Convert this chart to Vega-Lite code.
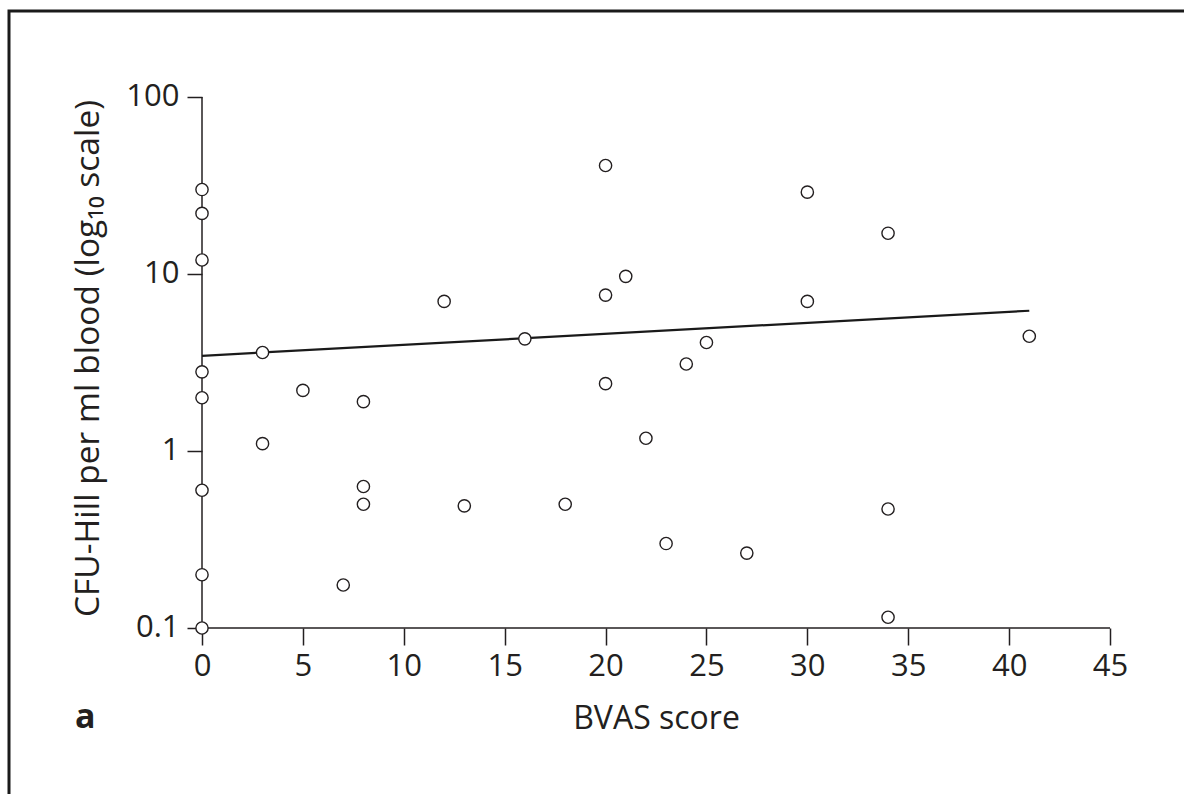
{
  "$schema": "https://vega.github.io/schema/vega-lite/v6.json",
  "autosize": {"type": "none"},
  "width": 1179,
  "height": 787,
  "padding": {"left": 9, "top": 11, "right": -4, "bottom": -4},
  "background": "white",
  "config": {
    "view": {"stroke": "#1a1a1a", "strokeWidth": 3},
    "font": "Open Sans",
    "axis": {"labelColor": "#231f20", "titleColor": "#231f20", "tickColor": "#231f20", "labelFont": "Open Sans", "titleFont": "Open Sans", "titleFontWeight": "normal", "grid": false, "domain": false, "tickWidth": 1.5}
  },
  "datasets": {
    "points": [
      {"bvas": 0, "cfu": 30}, {"bvas": 0, "cfu": 22}, {"bvas": 0, "cfu": 12}, {"bvas": 0, "cfu": 2.8},
      {"bvas": 0, "cfu": 2.0}, {"bvas": 0, "cfu": 0.6}, {"bvas": 0, "cfu": 0.2}, {"bvas": 0, "cfu": 0.1},
      {"bvas": 3, "cfu": 3.6}, {"bvas": 3, "cfu": 1.1}, {"bvas": 5, "cfu": 2.2}, {"bvas": 7, "cfu": 0.175},
      {"bvas": 8, "cfu": 1.9}, {"bvas": 8, "cfu": 0.63}, {"bvas": 8, "cfu": 0.5}, {"bvas": 12, "cfu": 7.0},
      {"bvas": 13, "cfu": 0.49}, {"bvas": 16, "cfu": 4.3}, {"bvas": 18, "cfu": 0.5}, {"bvas": 20, "cfu": 41},
      {"bvas": 20, "cfu": 7.6}, {"bvas": 20, "cfu": 2.4}, {"bvas": 21, "cfu": 9.7}, {"bvas": 22, "cfu": 1.18},
      {"bvas": 23, "cfu": 0.3}, {"bvas": 24, "cfu": 3.1}, {"bvas": 25, "cfu": 4.1}, {"bvas": 27, "cfu": 0.265},
      {"bvas": 30, "cfu": 29}, {"bvas": 30, "cfu": 7.0}, {"bvas": 34, "cfu": 17}, {"bvas": 34, "cfu": 0.47},
      {"bvas": 34, "cfu": 0.115}, {"bvas": 41, "cfu": 4.45}
    ],
    "fit": [{"bvas": 0, "cfu": 3.45}, {"bvas": 41, "cfu": 6.2}],
    "axislines": [
      {"xa": 0, "xb": 45, "ya": 0.1, "yb": 0.1},
      {"xa": 0, "xb": 0, "ya": 0.1, "yb": 100}
    ],
    "panel": [{"bvas": -6.3, "cfu": 0.0272, "label": "a"}]
  },
  "layer": [
    {
      "data": {"name": "axislines"},
      "mark": {"type": "rule", "color": "#231f20", "strokeWidth": 1.5},
      "encoding": {
        "x": {"field": "xa", "type": "quantitative",
          "scale": {"domain": [-9.565, 48.865], "nice": false, "zero": false},
          "axis": {"orient": "bottom", "offset": -170, "values": [0, 5, 10, 15, 20, 25, 30, 35, 40, 45],
            "tickSize": 17, "labelFontSize": 31, "labelPadding": 6, "title": "BVAS score",
            "titleFontSize": 32, "titleX": 647, "titleY": 100, "titleBaseline": "alphabetic", "titleAlign": "center"}},
        "x2": {"field": "xb"},
        "y": {"field": "ya", "type": "quantitative",
          "scale": {"type": "log", "domain": [0.010952, 306.1], "nice": false, "zero": false},
          "axis": {"orient": "left", "offset": -193, "values": [0.1, 1, 10, 100], "format": "~g",
            "tickSize": 15, "labelFontSize": 31, "labelPadding": 8,
            "title": "CFU-Hill per ml blood (log₁₀ scale)", "titleFontSize": 33.5,
            "titleX": -104, "titleY": 347, "titleAngle": 270, "titleBaseline": "alphabetic", "titleAlign": "center"}},
        "y2": {"field": "yb"}
      }
    },
    {
      "data": {"name": "fit"},
      "mark": {"type": "line", "color": "#1a1a1a", "strokeWidth": 2.2},
      "encoding": {
        "x": {"field": "bvas", "type": "quantitative"},
        "y": {"field": "cfu", "type": "quantitative"}
      }
    },
    {
      "data": {"name": "points"},
      "mark": {"type": "point", "shape": "circle", "filled": false, "fill": "white", "fillOpacity": 1, "stroke": "#231f20", "strokeWidth": 1.4, "size": 150, "opacity": 1},
      "encoding": {
        "x": {"field": "bvas", "type": "quantitative"},
        "y": {"field": "cfu", "type": "quantitative"}
      }
    },
    {
      "data": {"name": "panel"},
      "mark": {"type": "text", "align": "left", "baseline": "alphabetic", "fontSize": 34, "fontWeight": "bold", "font": "Open Sans", "color": "#231f20"},
      "encoding": {
        "x": {"field": "bvas", "type": "quantitative"},
        "y": {"field": "cfu", "type": "quantitative"},
        "text": {"field": "label"}
      }
    }
  ]
}
